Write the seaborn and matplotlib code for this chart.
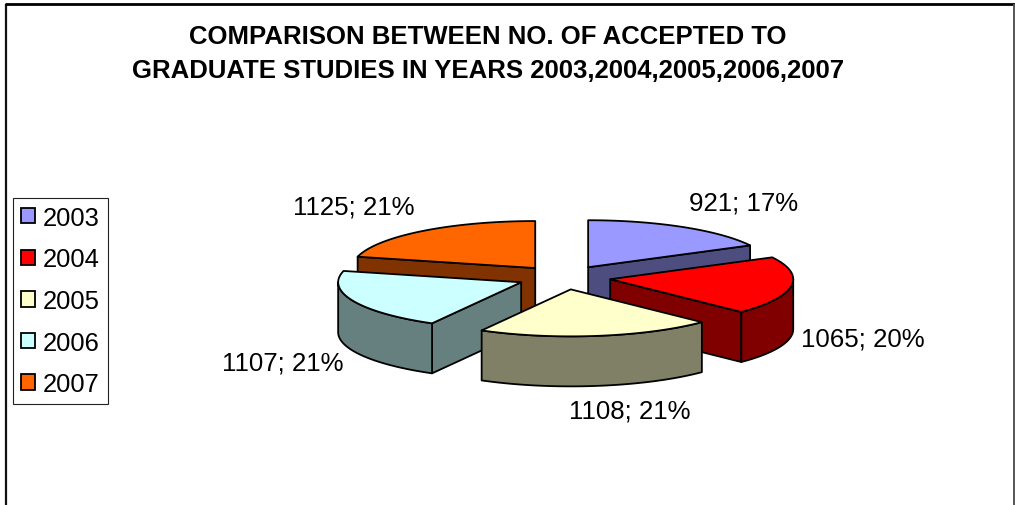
import numpy as np
import matplotlib
matplotlib.use("Agg")
import matplotlib.pyplot as plt
from matplotlib.patches import Patch
import seaborn as sns

years = ["2003", "2004", "2005", "2006", "2007"]
accepted = [921, 1065, 1108, 1107, 1125]
colors = ["#9999FF", "#FF0000", "#FFFFCC", "#CCFFFF", "#FF6600"]

title = "COMPARISON BETWEEN NO. OF ACCEPTED TO\nGRADUATE STUDIES IN YEARS 2003,2004,2005,2006,2007"

sns.set_theme(style="white")
plt.rcParams["font.family"] = ["Liberation Sans", "DejaVu Sans"]

# pie geometry, axes run in picture pixels
cx, cy = 564, 278.5
rx, ry = 183, 47
explode = 46.7
depth = 50
lw = 1.3

# where the labels sit (centre x, centre y), same order as years
label_pos = [(744, 203), (863, 339), (630, 412), (283, 363), (354, 207)]

palette = sns.color_palette(colors)
dark = [tuple(c * 0.5 for c in col) for col in palette]

fig = plt.figure(figsize=(10.15, 5.06), dpi=100)
ax = fig.add_axes([0, 0, 1, 1])
ax.set_xlim(0, 1015)
ax.set_ylim(506, 0)
ax.axis("off")


def rim(ax0, ay0, a):
    return ax0 + rx * np.sin(a), ay0 - ry * np.cos(a)


total = sum(accepted)
edges = np.concatenate([[0], np.cumsum(accepted)]) / total * 2 * np.pi

slices = []
for i in range(len(years)):
    a0, a1 = edges[i], edges[i + 1]
    mid = (a0 + a1) / 2
    ax0 = cx + explode * np.sin(mid)
    ay0 = cy - explode * ry / rx * np.cos(mid)
    slices.append((ay0, i, a0, a1, ax0))

# back slices first
for ay0, i, a0, a1, ax0 in sorted(slices, key=lambda s: s[0]):
    # radial faces, only those looking towards the viewer
    for a, normal in [(a0, a0 - np.pi / 2), (a1, a1 + np.pi / 2)]:
        if np.cos(normal) < -0.01:
            x1, y1 = rim(ax0, ay0, a)
            ax.fill([ax0, x1, x1, ax0], [ay0, y1, y1 + depth, ay0 + depth],
                    facecolor=dark[i], edgecolor="black", lw=lw, joinstyle="round")
    # outer wall, front half of the rim only
    w0, w1 = max(a0, np.pi / 2), min(a1, 3 * np.pi / 2)
    if w1 > w0:
        t = np.linspace(w0, w1, 60)
        x1, y1 = rim(ax0, ay0, t)
        ax.fill(np.r_[x1, x1[::-1]], np.r_[y1, y1[::-1] + depth],
                facecolor=dark[i], edgecolor="black", lw=lw, joinstyle="round")
    # top
    t = np.linspace(a0, a1, 80)
    x1, y1 = rim(ax0, ay0, t)
    ax.fill(np.r_[ax0, x1], np.r_[ay0, y1],
            facecolor=palette[i], edgecolor="black", lw=lw, joinstyle="round")

for i in range(len(years)):
    pct = accepted[i] / total * 100
    ax.text(label_pos[i][0], label_pos[i][1], f"{accepted[i]}; {pct:.0f}%",
            ha="center", va="center", fontsize=18.6, color="black")

ax.text(488, 54, title, ha="center", va="center", fontsize=18.5,
        fontweight="bold", color="black", linespacing=1.52)

# chart frame, cut by the bottom of the picture
ax.plot([5.8, 5.8], [506, 5], color="#111111", lw=1.6, solid_capstyle="butt")
ax.plot([5, 1015], [5, 5], color="black", lw=2, solid_capstyle="butt")
ax.plot([1014, 1014], [5, 506], color="#555555", lw=1.4, solid_capstyle="butt")

handles = [Patch(facecolor=palette[i], edgecolor="black", lw=lw, label=years[i])
           for i in range(len(years))]
leg = ax.legend(handles=handles, loc="upper left", bbox_to_anchor=(12.5 / 1015, 1 - 198.5 / 506),
                borderaxespad=0, fontsize=18.4, frameon=True, fancybox=False,
                edgecolor="#222222", framealpha=1, handlelength=0.55, handleheight=0.55,
                handletextpad=0.31, labelspacing=0.69, borderpad=0.32, labelcolor="black")
leg.get_frame().set_linewidth(0.8)

fig.savefig("out.png", dpi=100, facecolor="white")
